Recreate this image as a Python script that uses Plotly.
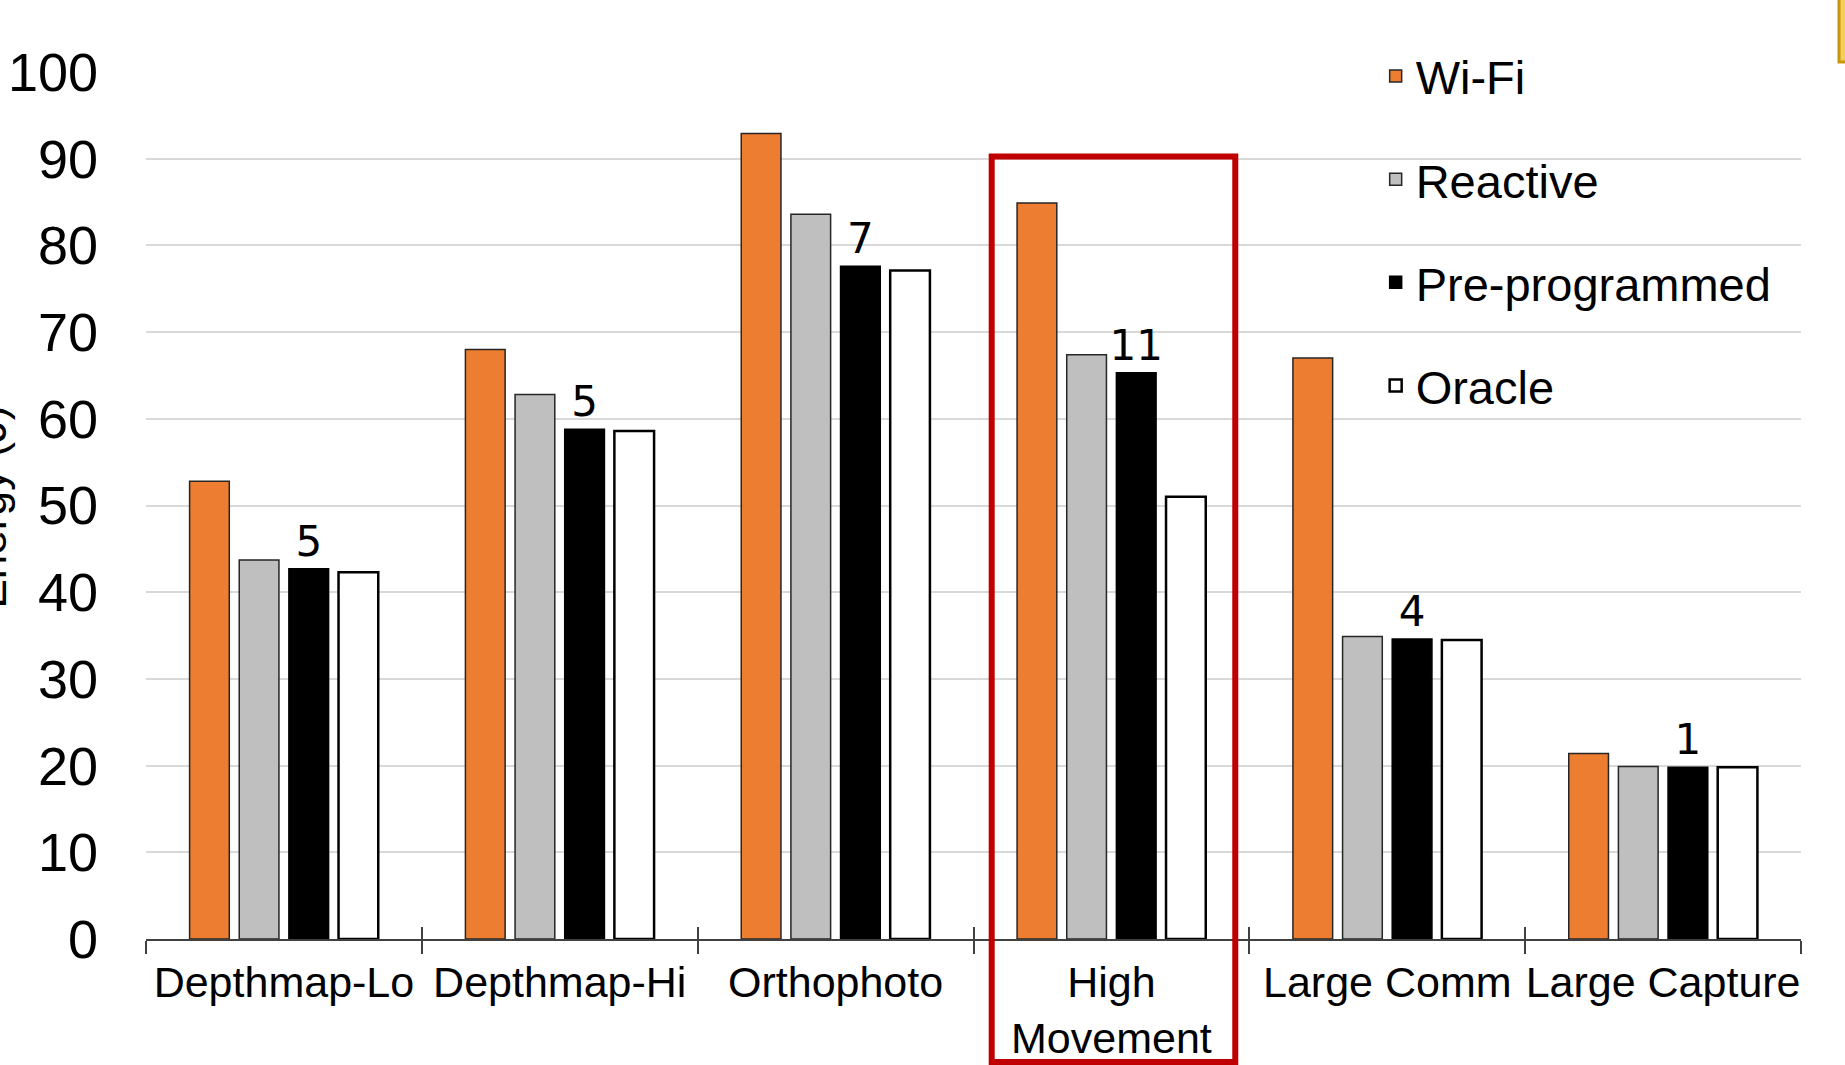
import plotly.graph_objects as go

categories = ["Depthmap-Lo", "Depthmap-Hi", "Orthophoto", "High<br>Movement", "Large Comm", "Large Capture"]
wifi = [52.8, 68.0, 92.9, 84.9, 67.0, 21.4]
reactive = [43.7, 62.8, 83.6, 67.4, 34.9, 19.9]
preprog = [42.7, 58.8, 77.6, 65.3, 34.6, 19.8]
oracle = [42.3, 58.6, 77.1, 51.0, 34.5, 19.8]
preprog_labels = ["5", "5", "7", "11", "4", "1"]
y_ticks = [0, 10, 20, 30, 40, 50, 60, 70, 80, 90, 100]

W, H = 1845, 1065
ML, MR, MT, MB = 146, 44, 72, 126
PW = W - ML - MR
PH = H - MT - MB

fig = go.Figure()
series = [
    ("Wi-Fi", wifi, "#ED7D31", "#262626", 1.5),
    ("Reactive", reactive, "#BFBFBF", "#262626", 1.5),
    ("Pre-programmed", preprog, "#000000", "#000000", 1.5),
    ("Oracle", oracle, "#FFFFFF", "#000000", 2.5),
]
for i, (name, vals, col, lcol, lw) in enumerate(series):
    kw = {}
    if name == "Pre-programmed":
        kw = dict(text=preprog_labels, textposition="outside", cliponaxis=False,
                  constraintext="none",
                  textfont=dict(family="DejaVu Sans", size=42, color="#000000"))
    fig.add_trace(go.Bar(
        x=categories, y=vals, name=name, legendgroup=name,
        marker=dict(color=col, line=dict(color=lcol, width=lw)),
        **kw))

# second x axis for upward tick marks
fig.add_trace(go.Scatter(x=[-0.5, 5.5], y=[0, 0], xaxis="x2", mode="lines",
                         line=dict(width=0), showlegend=False, hoverinfo="skip"))

fig.update_layout(
    width=W, height=H,
    margin=dict(l=ML, r=MR, t=MT, b=MB, pad=0, autoexpand=False),
    paper_bgcolor="white", plot_bgcolor="white",
    barmode="group", bargap=0.28, bargroupgap=0.2,
    font=dict(family="Arial, Liberation Sans", color="#000000"),
    legend=dict(x=0.743, xanchor="left", y=1.038, yanchor="top",
                font=dict(size=47, family="Arial, Liberation Sans", color="#000000"),
                tracegroupgap=39, bgcolor="rgba(0,0,0,0)", itemwidth=30),
    xaxis=dict(type="category", categoryorder="array", categoryarray=categories,
               range=[-0.5, 5.5], automargin=False, tickangle=0,
               showline=True, linecolor="#404040", linewidth=2,
               ticks="outside", ticklen=13, tickwidth=2, tickcolor="#404040",
               tickson="boundaries", showgrid=False, ticklabelstandoff=4,
               tickfont=dict(size=43, family="Arial, Liberation Sans", color="#000000")),
    xaxis2=dict(overlaying="x", anchor="y", side="bottom", range=[-0.5, 5.5],
                tickmode="array", tickvals=[-0.5, 0.5, 1.5, 2.5, 3.5, 4.5, 5.5],
                ticks="inside", ticklen=12, tickwidth=2, tickcolor="#404040",
                showticklabels=False, showgrid=False, showline=False, zeroline=False),
    yaxis=dict(range=[0, 100], tickvals=y_ticks, showgrid=True, gridcolor="#D9D9D9",
               gridwidth=1.5, zeroline=False, showline=False, ticks="", automargin=False,
               ticklabelstandoff=47,
               tickfont=dict(size=54, family="Arial, Liberation Sans", color="#000000")),
    shapes=[
        dict(type="rect", xref="x", yref="paper", x0=2.566, x1=3.449,
             y0=-0.142, y1=0.9025, line=dict(color="#C00000", width=6),
             fillcolor="rgba(0,0,0,0)", layer="above"),
        dict(type="rect", xref="paper", yref="paper", x0=(1839 - ML) / PW, x1=(1850 - ML) / PW,
             y0=(H - MB - 62) / PH, y1=1.1,
             line=dict(color="#C8960C", width=3), fillcolor="#F2CE5A", layer="above"),
    ],
    annotations=[
        dict(text="Energy (J)", textangle=-90, xref="paper", yref="paper",
             x=(16 - ML) / PW, xanchor="right", y=(H - MB - 507) / PH, yanchor="middle",
             showarrow=False, font=dict(size=44, family="Arial, Liberation Sans", color="#000000")),
    ],
)

fig.write_html("out.html")
